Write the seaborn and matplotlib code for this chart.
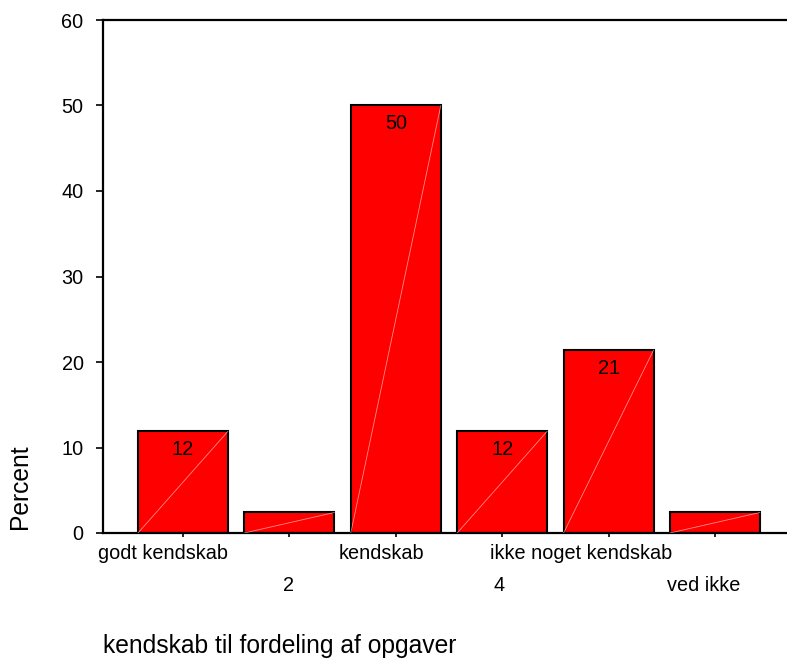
import matplotlib
matplotlib.use("Agg")
import matplotlib.pyplot as plt
import matplotlib.transforms as mtransforms
import seaborn as sns
import pandas as pd

# data: percent of respondents (n = 42)
categories = ["godt kendskab", "2", "kendskab", "4", "ikke noget kendskab", "ved ikke"]
percent = [11.9, 2.4, 50.0, 11.9, 21.4, 2.4]
y_ticks = [0, 10, 20, 30, 40, 50, 60]

# horizontal nudge (pixels) of each x tick label, like the original layout
label_nudge = [-20, -1, -14, -3, -27, -11]

sns.set_theme(style="white")
plt.rcParams["font.family"] = ["Liberation Sans", "DejaVu Sans"]

df = pd.DataFrame({"cat": categories, "pct": percent})

fig = plt.figure(figsize=(7.87, 6.58), dpi=100)
ax = fig.add_axes([103 / 787, 125 / 658, 684 / 787, 513 / 658])

sns.barplot(data=df, x="cat", y="pct", color="#ff0000", saturation=1,
            edgecolor="black", linewidth=1.5, width=0.846, ax=ax)

# faint diagonal inside each bar + value label
for p, v in zip(ax.patches, percent):
    x0, w, h = p.get_x(), p.get_width(), p.get_height()
    ax.plot([x0, x0 + w], [0, h], color="white", lw=0.6, alpha=0.55, zorder=3)
    if v > 5:
        ax.annotate(f"{v:.0f}", (x0 + w / 2, h), xytext=(0, -13),
                    textcoords="offset points", ha="center", va="center",
                    fontsize=14.3, color="black", zorder=4)

ax.set_xlim(-0.752, 5.677)
ax.set_ylim(0, 60)
ax.set_yticks(y_ticks)
ax.set_xlabel("")
ax.set_ylabel("")

for s in ["left", "bottom", "top"]:
    ax.spines[s].set_visible(True)
    ax.spines[s].set_color("black")
    ax.spines[s].set_linewidth(1.6)
ax.spines["right"].set_visible(False)

ax.tick_params(axis="y", which="major", direction="out", length=5, width=1.2,
               pad=9, labelsize=14.3, colors="black", left=True)
ax.tick_params(axis="x", which="major", direction="out", length=3, width=1.2,
               labelsize=14.3, colors="black", bottom=True)

ax.set_xticks(range(len(categories)))
ax.set_xticklabels(categories)
for i, (tick, lab) in enumerate(zip(ax.xaxis.get_major_ticks(), ax.get_xticklabels())):
    tick.set_pad(5 if i % 2 == 0 else 28)
    lab.set_transform(lab.get_transform() +
                      mtransforms.ScaledTranslation(label_nudge[i] / 100, 0, fig.dpi_scale_trans))

fig.text(20 / 787, 1 - 487 / 658, "Percent", rotation=90, ha="center", va="center",
         fontsize=17.7, color="black")
fig.text(103 / 787, 1 - 653 / 658, "kendskab til fordeling af opgaver", ha="left",
         va="baseline", fontsize=17.7, color="black")

fig.savefig("out.png", dpi=100)
